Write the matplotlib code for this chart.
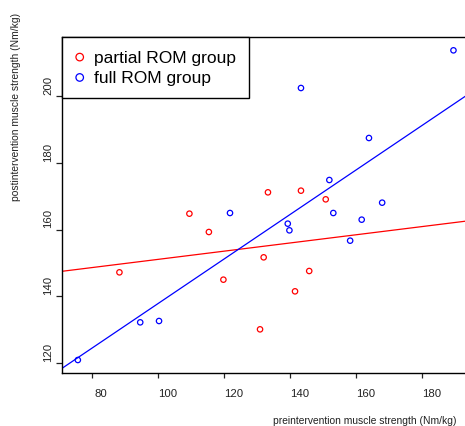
import matplotlib.pyplot as plt
import matplotlib.transforms as mtransforms
import numpy as np

plt.rcParams.update({'font.family': ['Liberation Sans', 'DejaVu Sans']})

# partial ROM group
pre_partial = [88.2, 109.4, 115.3, 119.7, 130.8, 131.9, 133.2, 141.4, 143.2, 145.7, 150.7]
post_partial = [147.2, 164.8, 159.3, 145.0, 130.1, 151.7, 171.2, 141.5, 171.7, 147.6, 169.1]
# full ROM group
pre_full = [75.6, 94.5, 100.2, 121.7, 139.2, 139.7, 143.2, 151.8, 153.0, 158.1, 161.6, 163.8, 167.8, 189.4]
post_full = [120.9, 132.2, 132.6, 165.0, 161.8, 159.8, 202.5, 174.9, 165.0, 156.7, 163.0, 187.5, 168.1, 213.8]

# regression lines (intercept, slope)
fit_partial = (138.8, 0.123)
fit_full = (71.1, 0.668)

xticks = [80, 100, 120, 140, 160, 180]
yticks = [120, 140, 160, 180, 200]

fig = plt.figure(figsize=(4.65, 4.27), dpi=100)
ax = fig.add_axes([62/465, 1-374/427, 1-62/465, (374-38)/427])

ax.scatter(pre_partial, post_partial, s=15, facecolors='none', edgecolors='red', linewidths=0.9, label='partial ROM group', zorder=3)
ax.scatter(pre_full, post_full, s=15, facecolors='none', edgecolors='blue', linewidths=0.9, label='full ROM group', zorder=3)

xl = np.array([70.8, 192.9])
ax.plot(xl, fit_partial[0] + fit_partial[1]*xl, color='red', lw=0.9)
ax.plot(xl, fit_full[0] + fit_full[1]*xl, color='blue', lw=0.9)

ax.set_xlim(70.8, 192.9)
ax.set_ylim(117.0, 217.8)
ax.set_xticks(xticks)
ax.set_yticks(yticks)
ax.spines['right'].set_visible(False)
for s in ['left', 'bottom', 'top']:
    ax.spines[s].set_linewidth(1.0)

ax.tick_params(axis='x', length=3.6, width=0.9, pad=7, labelsize=8.2, colors='#222222')
ax.tick_params(axis='y', length=4.3, width=0.9, pad=2.0, labelsize=8.2, colors='#222222')
for lab in ax.get_yticklabels():
    lab.set_rotation(90)
    lab.set_va('center')

dx = mtransforms.ScaledTranslation(9/100, 0, fig.dpi_scale_trans)
for lab in ax.get_xticklabels():
    lab.set_transform(lab.get_transform() + dx)
dy = mtransforms.ScaledTranslation(0, 12/100, fig.dpi_scale_trans)
for lab in ax.get_yticklabels():
    lab.set_transform(lab.get_transform() + dy)

leg = ax.legend(loc='upper left', bbox_to_anchor=(0, 1), borderaxespad=0, fontsize=12.5,
                fancybox=False, edgecolor='black', framealpha=1, markerscale=1.4,
                handletextpad=0.55, handlelength=0.6, labelspacing=0.3, borderpad=0.72)
leg.get_frame().set_linewidth(1.0)

fig.text(16/465, 1-107/427, 'postintervention muscle strength (Nm/kg)', rotation=90,
         ha='center', va='center', fontsize=7.4, color='#222222')
fig.text(365/465, 1-421/427, 'preintervention muscle strength (Nm/kg)',
         ha='center', va='center', fontsize=7.4, color='#222222')

fig.savefig('out.png', dpi=100)
